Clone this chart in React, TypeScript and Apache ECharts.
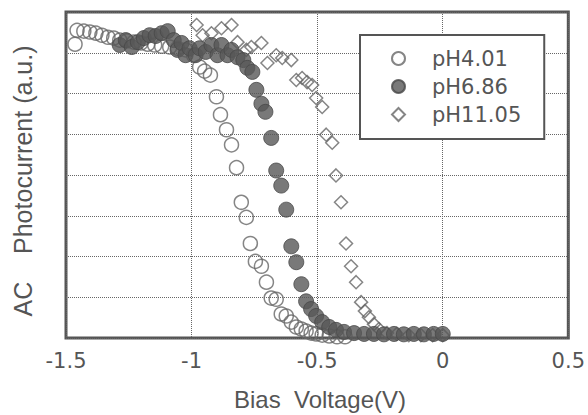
import React, { useEffect, useRef } from "react";
import * as echarts from "echarts";

const seriesNames = ["pH4.01", "pH6.86", "pH11.05"];
const xTickLabels = ["-1.5", "-1", "-0.5", "0", "0.5"];
const xTitle = "Bias  Voltage(V)";
const yTitle = "AC    Photocurrent (a.u.)";

// pH4.01 (open circles): [bias voltage, photocurrent]
const ph401: number[][] = [
  [-1.464, 7.21], [-1.456, 7.55], [-1.429, 7.53], [-1.405, 7.51], [-1.381, 7.48],
  [-1.357, 7.43], [-1.333, 7.38], [-1.31, 7.36], [-1.286, 7.31], [-1.258, 7.29],
  [-1.23, 7.26], [-1.202, 7.24], [-1.175, 7.21], [-1.147, 7.19], [-1.119, 7.16],
  [-1.087, 7.14], [-1.056, 7.11], [-1.024, 7.07], [-0.992, 6.94], [-0.968, 6.65],
  [-0.948, 6.55], [-0.925, 6.45], [-0.901, 5.92], [-0.885, 5.48], [-0.861, 5.11],
  [-0.841, 4.74], [-0.821, 4.18], [-0.802, 3.33], [-0.782, 2.96], [-0.766, 2.32],
  [-0.746, 1.88], [-0.722, 1.76], [-0.702, 1.37], [-0.683, 0.98], [-0.663, 0.95],
  [-0.643, 0.59], [-0.623, 0.54], [-0.603, 0.39], [-0.583, 0.27], [-0.563, 0.22],
  [-0.544, 0.17], [-0.524, 0.12], [-0.504, 0.1], [-0.48, 0.07], [-0.452, 0.05],
  [-0.421, 0.03], [-0.389, 0.03],
];

// pH6.86 (filled circles)
const ph686: number[][] = [
  [-1.286, 7.19], [-1.262, 7.31], [-1.238, 7.14], [-1.214, 7.26], [-1.19, 7.36],
  [-1.167, 7.43], [-1.143, 7.41], [-1.119, 7.48], [-1.095, 7.53], [-1.071, 7.31],
  [-1.056, 7.07], [-1.04, 7.24], [-1.024, 6.94], [-1.008, 7.11], [-0.984, 6.94],
  [-0.968, 7.11], [-0.944, 7.02], [-0.921, 7.19], [-0.897, 6.94], [-0.881, 7.19],
  [-0.857, 6.94], [-0.841, 7.07], [-0.817, 6.89], [-0.794, 6.82], [-0.778, 6.63],
  [-0.758, 6.53], [-0.742, 6.09], [-0.722, 5.75], [-0.706, 5.55], [-0.683, 4.91],
  [-0.663, 4.11], [-0.643, 3.74], [-0.623, 3.15], [-0.603, 2.25], [-0.583, 1.86],
  [-0.563, 1.32], [-0.544, 0.9], [-0.524, 0.71], [-0.504, 0.54], [-0.48, 0.39],
  [-0.452, 0.27], [-0.425, 0.2], [-0.393, 0.15], [-0.353, 0.12], [-0.313, 0.1],
  [-0.274, 0.1], [-0.234, 0.09], [-0.194, 0.1], [-0.155, 0.09], [-0.115, 0.1],
  [-0.075, 0.09], [-0.036, 0.1], [0.0, 0.1],
];

// pH11.05 (open diamonds)
const ph1105: number[][] = [
  [-0.98, 7.68], [-0.956, 7.43], [-0.921, 7.48], [-0.881, 7.6], [-0.841, 7.68],
  [-0.817, 7.26], [-0.782, 7.07], [-0.762, 7.14], [-0.722, 7.24], [-0.698, 6.75],
  [-0.663, 6.94], [-0.639, 6.87], [-0.603, 6.82], [-0.583, 6.33], [-0.56, 6.38],
  [-0.54, 6.28], [-0.52, 6.21], [-0.504, 5.89], [-0.48, 5.67], [-0.464, 4.99],
  [-0.44, 4.79], [-0.425, 3.99], [-0.405, 3.33], [-0.385, 2.32], [-0.365, 1.76],
  [-0.345, 1.37], [-0.325, 0.88], [-0.31, 0.66], [-0.294, 0.51], [-0.274, 0.34],
  [-0.254, 0.22], [-0.222, 0.12], [-0.183, 0.1], [-0.135, 0.07], [-0.087, 0.07],
  [-0.04, 0.07], [0.0, 0.07],
];

const textColor = "#555";

export default function App() {
  const ref = useRef<HTMLDivElement>(null);
  useEffect(() => {
    if (!ref.current) return;
    const chart = echarts.init(ref.current, undefined, { renderer: "svg" });
    const open = "rgba(255,255,255,0)";
    chart.setOption({
      animation: false,
      backgroundColor: "#fff",
      grid: {
        left: 66,
        right: 18,
        top: 12,
        bottom: 77,
        show: true,
        borderColor: "#555",
        borderWidth: 3,
        containLabel: false,
      },
      xAxis: {
        type: "value",
        min: -1.5,
        max: 0.5,
        interval: 0.5,
        axisLine: { show: false },
        axisTick: { show: false },
        axisLabel: {
          margin: 12,
          fontFamily: "DejaVu Sans",
          fontSize: 21,
          color: textColor,
          formatter: (v: number) => {
            const i = Math.round((v + 1.5) / 0.5);
            return xTickLabels[i] ?? String(v);
          },
        },
        splitLine: { show: true, lineStyle: { color: "#666", type: "dotted", width: 1 } },
      },
      yAxis: {
        type: "value",
        min: 0,
        max: 8,
        interval: 1,
        axisLine: { show: false },
        axisTick: { show: false },
        axisLabel: { show: false },
        splitLine: { show: true, lineStyle: { color: "#666", type: "dotted", width: 1 } },
      },
      legend: {
        orient: "vertical",
        left: 360,
        top: 35,
        padding: [13, 23, 14, 31],
        itemWidth: 13,
        itemHeight: 13,
        itemGap: 7,
        borderColor: "#555",
        borderWidth: 2,
        backgroundColor: "#fff",
        textStyle: {
          fontFamily: "DejaVu Sans",
          fontSize: 21,
          lineHeight: 21,
          color: textColor,
          padding: [0, 0, 0, 22],
        },
        data: seriesNames,
      },
      graphic: [
        {
          type: "text",
          x: 320,
          y: 399,
          style: {
            text: xTitle,
            fontFamily: "Liberation Sans",
            fontSize: 24,
            lineHeight: 24,
            fill: textColor,
            align: "center",
            verticalAlign: "middle",
          },
        },
        {
          type: "text",
          x: 23,
          y: 181,
          rotation: Math.PI / 2,
          style: {
            text: yTitle,
            fontFamily: "Liberation Sans",
            fontSize: 25,
            fill: textColor,
            align: "center",
            verticalAlign: "middle",
          },
        },
      ],
      series: [
        {
          name: seriesNames[0],
          type: "scatter",
          symbol: "circle",
          symbolSize: 14,
          z: 2,
          itemStyle: { color: open, borderColor: "#666", borderWidth: 1.5 },
          data: ph401,
        },
        {
          name: seriesNames[1],
          type: "scatter",
          symbol: "circle",
          symbolSize: 15,
          z: 4,
          itemStyle: { color: "#585858", borderColor: "#484848", borderWidth: 1 },
          data: ph686,
        },
        {
          name: seriesNames[2],
          type: "scatter",
          symbol: "diamond",
          symbolSize: 13,
          z: 3,
          itemStyle: { color: open, borderColor: "#666", borderWidth: 1.5 },
          data: ph1105,
        },
      ],
    });
    return () => chart.dispose();
  }, []);
  return <div ref={ref} style={{ width: 588, height: 415, position: "absolute", left: 0, top: 0 }} />;
}
